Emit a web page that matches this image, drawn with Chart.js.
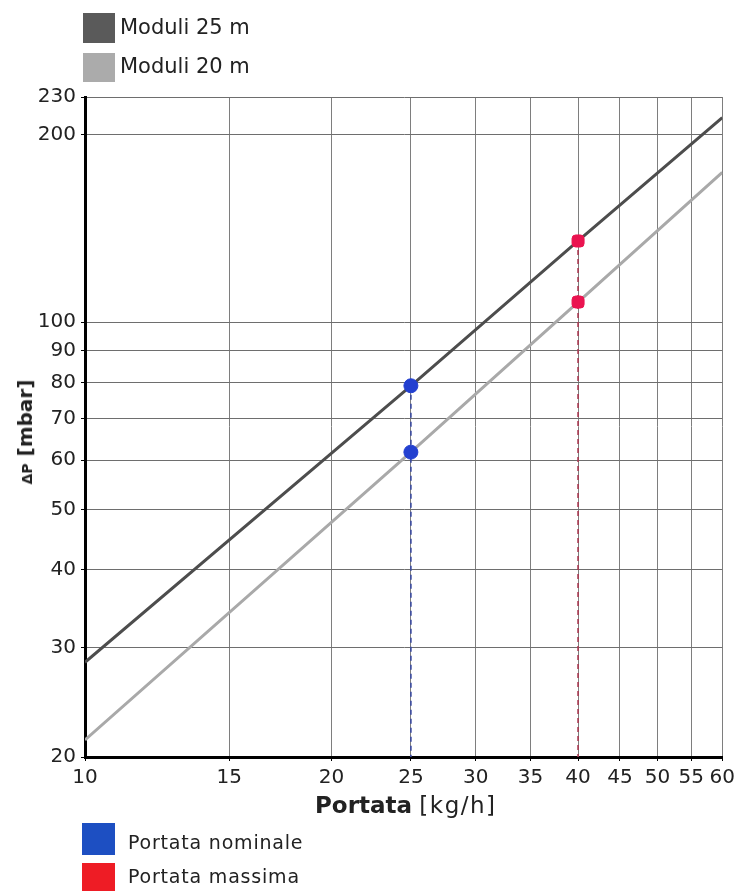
<!DOCTYPE html>
<html>
<head>
<meta charset="utf-8">
<script src="https://cdn.jsdelivr.net/npm/chart.js@4.4.1/dist/chart.umd.min.js"></script>
<style>
  html, body { margin:0; padding:0; background:#fff; }
  #wrap { position:relative; width:740px; height:891px; overflow:hidden; font-family:"DejaVu Sans", Verdana, sans-serif; color:#222; }
  canvas { position:absolute; left:0; top:0; }
  .sq { position:absolute; }
  .lt { position:absolute; white-space:nowrap; line-height:1; }
</style>
</head>
<body>
<div id="wrap">
  <canvas id="c" width="740" height="891"></canvas>

  <div class="sq" style="left:83px;top:13px;width:32px;height:30px;background:#5a5a5a;"></div>
  <div class="lt" style="left:120px;top:17px;font-size:21px;">Moduli 25 m</div>
  <div class="sq" style="left:83px;top:53px;width:32px;height:29px;background:#ababab;"></div>
  <div class="lt" style="left:120px;top:56px;font-size:21px;">Moduli 20 m</div>

  <div class="lt" style="left:315px;top:794px;font-size:23px;"><b>Portata</b> <span style="letter-spacing:1.5px;">[kg/h]</span></div>

  <div class="lt" style="left:25px;top:432px;transform:translate(-50%,-50%) rotate(-90deg);font-weight:bold;font-size:20px;"><span style="font-size:14px;">ΔP</span> [mbar]</div>

  <div class="sq" style="left:82px;top:823px;width:33px;height:32px;background:#1d4fc2;"></div>
  <div class="lt" style="left:128px;top:833px;font-size:19px;letter-spacing:0.8px;">Portata nominale</div>
  <div class="sq" style="left:82px;top:863px;width:33px;height:30px;background:#ee1c25;"></div>
  <div class="lt" style="left:128px;top:867px;font-size:19px;letter-spacing:0.8px;">Portata massima</div>
</div>
<script>
// ---- data ----
const flowPoints = [10, 25, 40, 60];            // Portata [kg/h]
const dpModuli25 = [28.4, 79, 135, 213];        // ΔP [mbar], Moduli 25 m
const dpModuli20 = [21.3, 61.8, 107.7, 174];    // ΔP [mbar], Moduli 20 m
const nominalFlow = 25;
const maxFlow = 40;
const xTickValues = [10, 15, 20, 25, 30, 35, 40, 45, 50, 55, 60];
const yTickValues = [20, 30, 40, 50, 60, 70, 80, 90, 100, 200, 230];
const yMin = 20, yMax = 230, xMin = 10, xMax = 60;

const toXY = (ys) => flowPoints.map((x, i) => ({x, y: ys[i]}));
const at = (ys, x) => ys[flowPoints.indexOf(x)];

const tickFont = {family: '"DejaVu Sans", Verdana, sans-serif', size: 20};

new Chart(document.getElementById('c'), {
  type: 'scatter',
  data: {
    datasets: [
      { // dashed nominal
        type: 'line', data: [{x: nominalFlow, y: at(dpModuli25, nominalFlow)}, {x: nominalFlow, y: yMin}],
        borderColor: '#3a4aa0', borderWidth: 1.6, borderDash: [5, 4], pointRadius: 0, order: 10
      },
      { // dashed max
        type: 'line', data: [{x: maxFlow, y: at(dpModuli25, maxFlow)}, {x: maxFlow, y: yMin}],
        borderColor: '#a83850', borderWidth: 1.6, borderDash: [5, 4], pointRadius: 0, order: 10
      },
      {
        label: 'Moduli 25 m', type: 'line', data: toXY(dpModuli25),
        borderColor: '#4d4d4d', borderWidth: 3, pointRadius: 0, tension: 0, order: 5
      },
      {
        label: 'Moduli 20 m', type: 'line', data: toXY(dpModuli20),
        borderColor: '#a9a9a9', borderWidth: 3, pointRadius: 0, tension: 0, order: 5
      },
      {
        label: 'Portata nominale',
        data: [{x: nominalFlow, y: at(dpModuli25, nominalFlow)}, {x: nominalFlow, y: at(dpModuli20, nominalFlow)}],
        backgroundColor: '#2340d0', borderColor: '#2340d0', pointRadius: 7, pointStyle: 'circle', order: 1
      },
      {
        label: 'Portata massima',
        data: [{x: maxFlow, y: at(dpModuli25, maxFlow)}, {x: maxFlow, y: at(dpModuli20, maxFlow)}],
        backgroundColor: '#ea1450', borderColor: '#ea1450', pointRadius: 7, pointStyle: 'rectRounded', order: 1
      }
    ]
  },
  options: {
    responsive: false,
    animation: false,
    devicePixelRatio: 1,
    layout: { padding: { top: 97, right: 16, left: 0, bottom: 0 } },
    plugins: { legend: { display: false }, tooltip: { enabled: false } },
    scales: {
      x: {
        type: 'logarithmic', min: xMin, max: xMax,
        afterBuildTicks: (s) => { s.ticks = xTickValues.map(v => ({value: v})); },
        afterFit: (s) => { s.height = 134; },
        ticks: { autoSkip: false, maxRotation: 0, color: '#222', font: tickFont, padding: 5,
                 callback: (v) => String(v) },
        grid: { color: '#7e7e7e', lineWidth: 1, tickLength: 4, tickColor: '#000' },
        border: { color: '#000', width: 3 }
      },
      y: {
        type: 'logarithmic', min: yMin, max: yMax,
        afterBuildTicks: (s) => { s.ticks = yTickValues.map(v => ({value: v})); },
        afterFit: (s) => { s.width = 85; },
        ticks: { autoSkip: false, color: '#222', font: tickFont, padding: 5,
                 callback: (v) => String(v) },
        grid: { color: '#6e6e6e', lineWidth: 1, tickLength: 4, tickColor: '#000' },
        border: { color: '#000', width: 3 }
      }
    }
  }
});
</script>
</body>
</html>
